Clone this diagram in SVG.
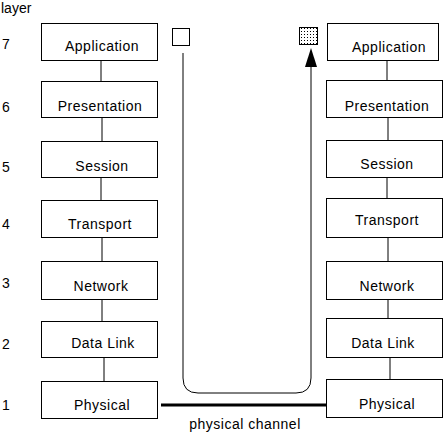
<svg xmlns="http://www.w3.org/2000/svg" width="445" height="434" viewBox="0 0 445 434">
<style>
.box{fill:#fff;stroke:#000;stroke-width:1}
.t{font-family:"Liberation Sans",Arial,sans-serif;font-size:14px;fill:#000;text-anchor:middle;letter-spacing:0.5px}
.n{font-family:"Liberation Sans",Arial,sans-serif;font-size:14px;fill:#000}
.c{stroke:#000;stroke-width:1;fill:none}
</style>
<defs>
<pattern id="dots" width="3" height="3" patternUnits="userSpaceOnUse">
<rect width="3" height="3" fill="#fff"/>
<rect x="1" y="1" width="1" height="1" fill="#000"/>
</pattern>
<marker id="arr" viewBox="0 0 19 12" refX="0" refY="6" markerWidth="19" markerHeight="12" markerUnits="userSpaceOnUse" orient="auto">
<path d="M0,0 L19,6 L0,12 Z" fill="#000"/>
</marker>
</defs>
<rect width="445" height="434" fill="#fff"/>
<g id="labels">
<text class="n" x="1" y="13">layer</text>
<text class="n" x="2" y="49">7</text>
<text class="n" x="2" y="112">6</text>
<text class="n" x="2" y="172">5</text>
<text class="n" x="2" y="229">4</text>
<text class="n" x="2" y="288">3</text>
<text class="n" x="2" y="349">2</text>
<text class="n" x="2" y="410">1</text>
<text class="t" x="245" y="429">physical channel</text>
</g>
<g id="connectors">
<line class="c" x1="101" y1="60" x2="101" y2="81"/>
<line class="c" x1="102" y1="117" x2="102" y2="141"/>
<line class="c" x1="101" y1="177" x2="101" y2="200"/>
<line class="c" x1="102" y1="237" x2="102" y2="261"/>
<line class="c" x1="102" y1="299" x2="102" y2="321"/>
<line class="c" x1="104" y1="357" x2="104" y2="381"/>
<line class="c" x1="387" y1="60" x2="387" y2="80"/>
<line class="c" x1="388" y1="117" x2="388" y2="140"/>
<line class="c" x1="387" y1="177" x2="387" y2="198"/>
<line class="c" x1="388" y1="237" x2="388" y2="261"/>
<line class="c" x1="388" y1="299" x2="388" y2="318"/>
<line class="c" x1="390" y1="357" x2="390" y2="379"/>
<line x1="161" y1="405" x2="332" y2="405" stroke="#000" stroke-width="3"/>
<path class="c" d="M183,53 L183,378 Q183,393 198,393 L296,393 Q311,393 311,378 L311,67" marker-end="url(#arr)"/>
</g>
<g id="src-square"><rect class="box" x="172.5" y="28.5" width="17" height="17"/></g>
<g id="dst-square"><rect x="299.5" y="27.5" width="18" height="17" fill="url(#dots)" stroke="#000"/></g>
<g id="l-app"><rect class="box" x="41.5" y="23.5" width="116" height="37"/><text class="t" x="102" y="51">Application</text></g>
<g id="l-pres"><rect class="box" x="41.5" y="81.5" width="116" height="36"/><text class="t" x="100" y="111">Presentation</text></g>
<g id="l-sess"><rect class="box" x="41.5" y="141.5" width="116" height="36"/><text class="t" x="102" y="171">Session</text></g>
<g id="l-trans"><rect class="box" x="41.5" y="200.5" width="116" height="37"/><text class="t" x="100" y="229">Transport</text></g>
<g id="l-net"><rect class="box" x="41.5" y="261.5" width="116" height="38"/><text class="t" x="101" y="291">Network</text></g>
<g id="l-dl"><rect class="box" x="41.5" y="321.5" width="116" height="36"/><text class="t" x="103" y="348">Data Link</text></g>
<g id="l-phys"><rect class="box" x="41.5" y="381.5" width="116" height="37"/><text class="t" x="102" y="410">Physical</text></g>
<g id="r-app"><rect class="box" x="327.5" y="23.5" width="111" height="37"/><text class="t" x="389" y="52">Application</text></g>
<g id="r-pres"><rect class="box" x="326.5" y="80.5" width="116" height="37"/><text class="t" x="387" y="111">Presentation</text></g>
<g id="r-sess"><rect class="box" x="326.5" y="140.5" width="116" height="37"/><text class="t" x="387" y="169">Session</text></g>
<g id="r-trans"><rect class="box" x="326.5" y="198.5" width="116" height="39"/><text class="t" x="387" y="225">Transport</text></g>
<g id="r-net"><rect class="box" x="326.5" y="261.5" width="116" height="38"/><text class="t" x="387" y="291">Network</text></g>
<g id="r-dl"><rect class="box" x="326.5" y="318.5" width="116" height="39"/><text class="t" x="383" y="348">Data Link</text></g>
<g id="r-phys"><rect class="box" x="326.5" y="379.5" width="116" height="38"/><text class="t" x="387" y="409">Physical</text></g>
</svg>
